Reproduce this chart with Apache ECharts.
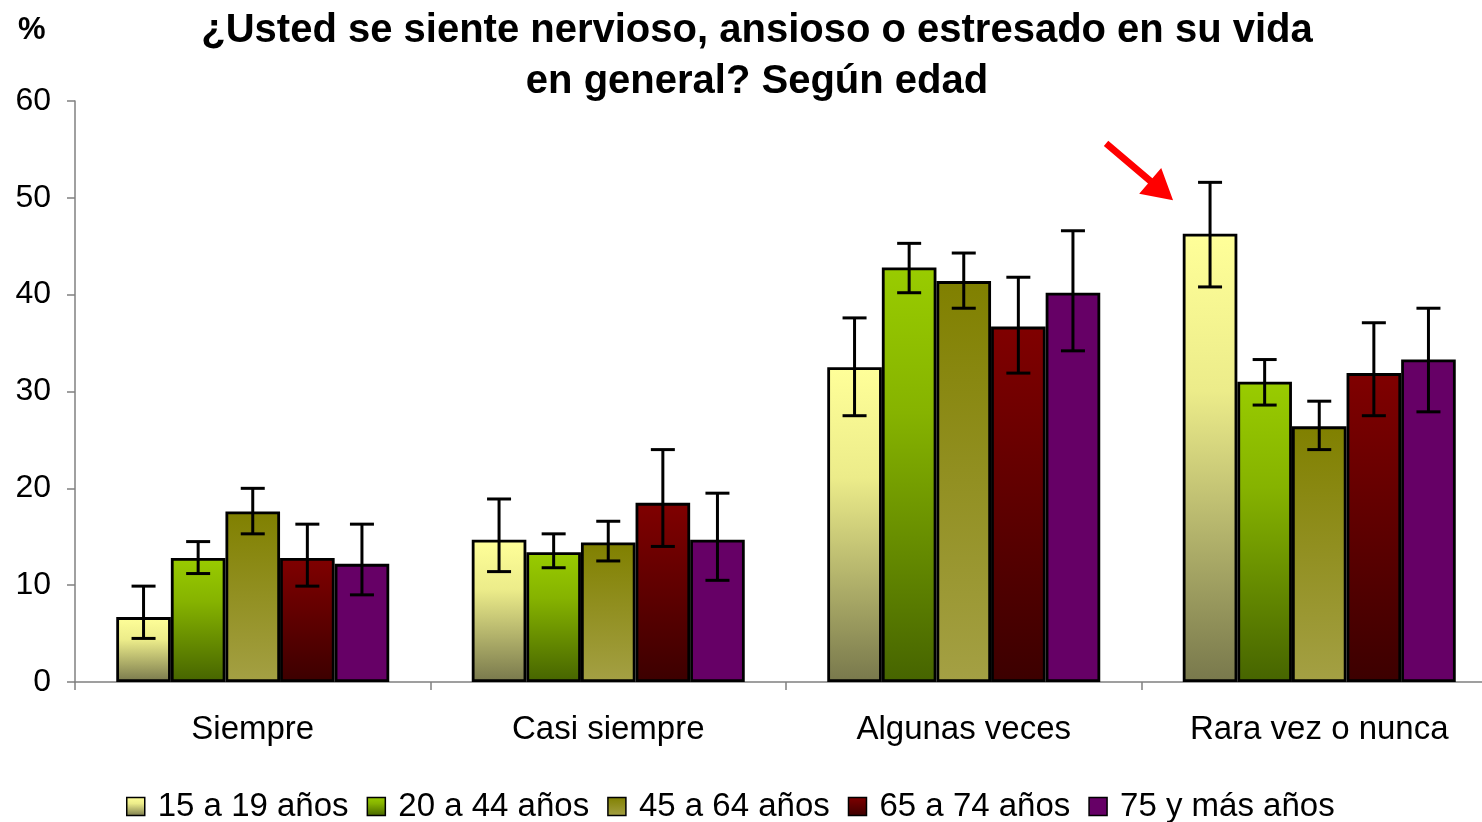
<!DOCTYPE html>
<html>
<head>
<meta charset="utf-8">
<script src="https://cdn.jsdelivr.net/npm/echarts@6/dist/echarts.min.js"></script>
<style>
html,body{margin:0;padding:0;background:#fff;}
#main{width:1482px;height:822px;}
</style>
</head>
<body>
<div id="main"></div>
<script>
var categories = ['Siempre', 'Casi siempre', 'Algunas veces', 'Rara vez o nunca'];
var seriesNames = ['15 a 19 años', '20 a 44 años', '45 a 64 años', '65 a 74 años', '75 y más años'];
var v15_19 = [6.7, 14.7, 32.5, 46.3];
var v20_44 = [12.8, 13.4, 42.8, 31.0];
var v45_64 = [17.6, 14.4, 41.4, 26.4];
var v65_74 = [12.8, 18.5, 36.7, 31.9];
var v75 = [12.2, 14.7, 40.2, 33.3];
var hi15_19 = [9.9, 18.9, 37.6, 51.6];
var lo15_19 = [4.5, 11.4, 27.5, 40.8];
var hi20_44 = [14.5, 15.3, 45.3, 33.3];
var lo20_44 = [11.2, 11.8, 40.2, 28.6];
var hi45_64 = [20.0, 16.6, 44.3, 29.0];
var lo45_64 = [15.3, 12.5, 38.6, 24.0];
var hi65_74 = [16.3, 24.0, 41.8, 37.1];
var lo65_74 = [9.9, 14.0, 31.9, 27.5];
var hi75 = [16.3, 19.5, 46.6, 38.6];
var lo75 = [9.0, 10.5, 34.2, 27.9];
var yTicks = [0, 10, 20, 30, 40, 50, 60];

var values = [v15_19, v20_44, v45_64, v65_74, v75];
var highs = [hi15_19, hi20_44, hi45_64, hi65_74, hi75];
var lows = [lo15_19, lo20_44, lo45_64, lo65_74, lo75];

function grad(stops) {
  return new echarts.graphic.LinearGradient(0, 0, 0, 1, stops.map(function (s) { return { offset: s[0], color: s[1] }; }));
}
var fills = [
  grad([[0, '#ffff99'], [0.35, '#ecec8a'], [1, '#78784c']]),
  grad([[0, '#99cc00'], [0.35, '#86b300'], [1, '#466400']]),
  grad([[0, '#808000'], [1, '#a4a044']]),
  grad([[0, '#800000'], [1, '#3c0000']]),
  '#660066'
];

var BAR_W = 54.6;
var chart = echarts.init(document.getElementById('main'), null, { renderer: 'canvas' });

var series = [];
values.forEach(function (vals, i) {
  series.push({
    name: seriesNames[i],
    type: 'bar',
    data: vals,
    barWidth: BAR_W,
    barGap: '0%',
    itemStyle: { color: fills[i], borderColor: '#000', borderWidth: 2.8 },
    emphasis: { disabled: true },
    z: 2
  });
});
values.forEach(function (vals, i) {
  series.push({
    type: 'custom',
    name: 'err' + i,
    silent: true,
    z: 5,
    data: categories.map(function (c, k) { return [k, lows[i][k], highs[i][k]]; }),
    encode: { x: 0, y: [1, 2] },
    renderItem: function (params, api) {
      var k = api.value(0);
      var lo = api.coord([k, api.value(1)]);
      var hi = api.coord([k, api.value(2)]);
      var x = lo[0] + (i - 2) * BAR_W;
      var cap = 12;
      var st = { stroke: '#000', lineWidth: 3 };
      return {
        type: 'group',
        children: [
          { type: 'line', shape: { x1: x, y1: hi[1], x2: x, y2: lo[1] }, style: st },
          { type: 'line', shape: { x1: x - cap, y1: hi[1], x2: x + cap, y2: hi[1] }, style: st },
          { type: 'line', shape: { x1: x - cap, y1: lo[1], x2: x + cap, y2: lo[1] }, style: st }
        ]
      };
    }
  });
});

var FONT = 'Liberation Sans, Arial, sans-serif';
var option = {
  backgroundColor: '#fff',
  animation: false,
  textStyle: { fontFamily: FONT },
  title: [
    {
      text: '¿Usted se siente nervioso, ansioso o estresado en su vida\nen general? Según edad',
      left: 752, top: 0, textAlign: 'center',
      textStyle: { fontSize: 40, fontWeight: 'bold', color: '#000', lineHeight: 51, fontFamily: FONT }
    },
    {
      text: '%', left: 13, top: 10,
      textStyle: { fontSize: 31, fontWeight: 'bold', color: '#000', fontFamily: FONT }
    }
  ],
  legend: {
    data: seriesNames,
    left: 121, top: 785,
    itemWidth: 18, itemHeight: 18, itemGap: 18,
    icon: 'rect',
    itemStyle: { borderColor: '#000', borderWidth: 1.5 },
    textStyle: { fontSize: 33, color: '#000', padding: [0, 0, 0, 8], fontFamily: FONT },
    selectedMode: false
  },
  grid: { left: 75, right: -15, top: 101, bottom: 140, containLabel: false, outerBoundsMode: 'none' },
  xAxis: {
    type: 'category',
    data: categories,
    axisLine: { lineStyle: { color: '#808080', width: 1.5 } },
    axisTick: { show: true, length: 8, lineStyle: { color: '#808080', width: 1.5 } },
    axisLabel: { fontSize: 33, color: '#000', margin: 31 },
    splitLine: { show: false }
  },
  yAxis: {
    type: 'value',
    min: yTicks[0], max: yTicks[yTicks.length - 1], interval: 10,
    axisLine: { show: true, lineStyle: { color: '#808080', width: 1.5 } },
    axisTick: { show: true, length: 8, lineStyle: { color: '#808080', width: 1.5 } },
    axisLabel: { fontSize: 32, color: '#000', margin: 24 },
    splitLine: { show: false }
  },
  series: series
};
chart.setOption(option);

// red arrow annotation pointing at the "Rara vez o nunca" 15-19 bar
var topPt = chart.convertToPixel({ xAxisIndex: 0, yAxisIndex: 0 }, [3, hi15_19[3]]);
var bx = topPt[0] - 2 * BAR_W;
var tip = [bx - 37, topPt[1] + 18];
var tail = [bx - 104, topPt[1] - 39];
var dx = tip[0] - tail[0], dy = tip[1] - tail[1];
var L = Math.sqrt(dx * dx + dy * dy);
var ux = dx / L, uy = dy / L, nx = -uy, ny = ux;
var headL = 30, headW = 17, shaftW = 3.4;
var hb = [tip[0] - ux * headL, tip[1] - uy * headL];
chart.setOption({
  graphic: [{
    type: 'polygon',
    shape: {
      points: [
        [tail[0] + nx * shaftW, tail[1] + ny * shaftW],
        [hb[0] + nx * shaftW, hb[1] + ny * shaftW],
        [hb[0] + nx * headW, hb[1] + ny * headW],
        tip,
        [hb[0] - nx * headW, hb[1] - ny * headW],
        [hb[0] - nx * shaftW, hb[1] - ny * shaftW],
        [tail[0] - nx * shaftW, tail[1] - ny * shaftW]
      ]
    },
    style: { fill: '#ff0000' },
    z: 10
  }]
});
</script>
</body>
</html>
